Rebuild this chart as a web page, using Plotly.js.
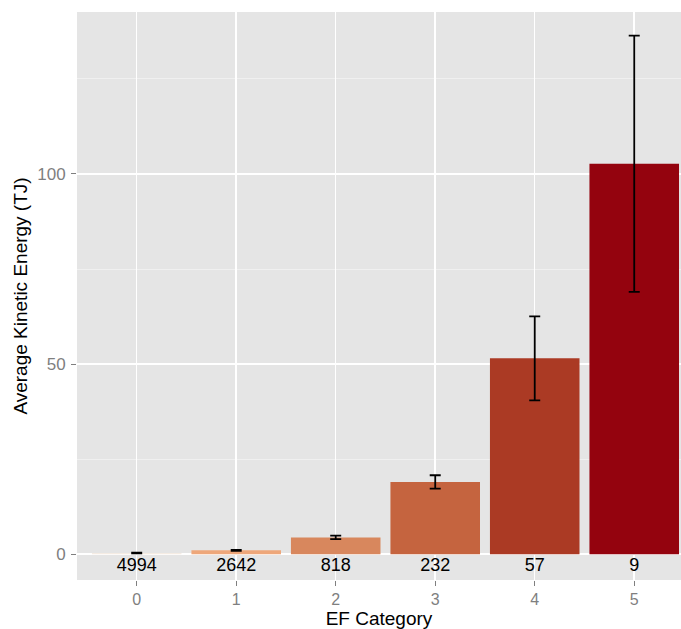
<!DOCTYPE html>
<html>
<head>
<meta charset="utf-8">
<script src="https://cdn.plot.ly/plotly-3.0.1.min.js"></script>
<style>html,body{margin:0;padding:0;background:#fff;}#chart{width:681px;height:629px;}</style>
</head>
<body>
<div id="chart"></div>
<script>
var categories = [0, 1, 2, 3, 4, 5];
var tickLabels = ["0", "1", "2", "3", "4", "5"];
var avgEnergy = [0.3, 1.0, 4.4, 19.0, 51.5, 102.7];
var errEnergy = [0.1, 0.15, 0.45, 1.75, 11.05, 33.7];
var counts = ["4994", "2642", "818", "232", "57", "9"];
var barColors = ["#F5ECE3", "#EEA77A", "#D8875D", "#C5643F", "#AB3A24", "#94030E"];

var labelY = categories.map(function(){ return -3.2; });

var traces = [
  {
    type: "bar",
    x: categories,
    y: avgEnergy,
    width: 0.9,
    marker: {color: barColors, line: {width: 0}},
    error_y: {type: "data", array: errEnergy, visible: true, color: "#000000", thickness: 1.8, width: 5.5},
    hoverinfo: "x+y",
    showlegend: false
  },
  {
    type: "scatter",
    mode: "text",
    x: categories,
    y: labelY,
    text: counts,
    textposition: "middle center",
    textfont: {family: "Liberation Sans, Arial, sans-serif", size: 18, color: "#000000"},
    hoverinfo: "skip",
    showlegend: false,
    cliponaxis: false
  }
];

var layout = {
  width: 681,
  height: 629,
  margin: {l: 77, r: 0, t: 12, b: 49},
  paper_bgcolor: "#FFFFFF",
  plot_bgcolor: "#E5E5E5",
  font: {family: "Liberation Sans, Arial, sans-serif", color: "#000000"},
  bargap: 0.1,
  xaxis: {
    range: [-0.6, 5.47],
    tickmode: "array",
    tickvals: categories,
    ticktext: tickLabels,
    showgrid: true,
    gridcolor: "#FFFFFF",
    gridwidth: 1.5,
    zeroline: false,
    showline: false,
    ticks: "outside",
    ticklen: 5,
    tickwidth: 1,
    tickcolor: "#7F7F7F",
    ticklabelstandoff: 0,
    tickfont: {size: 16, color: "#7F7F7F"},
    title: {text: "EF Category", font: {size: 19, color: "#000000"}, standoff: 0},
    fixedrange: true
  },
  yaxis: {
    range: [-6.8, 142.6],
    tickmode: "array",
    tickvals: [0, 50, 100],
    ticktext: ["0", "50", "100"],
    showgrid: true,
    gridcolor: "#FFFFFF",
    gridwidth: 1.5,
    minor: {tickmode: "array", tickvals: [25, 75, 125], showgrid: true, gridcolor: "#F2F2F2", gridwidth: 0.8, ticklen: 0},
    zeroline: false,
    showline: false,
    ticks: "outside",
    ticklen: 5,
    tickwidth: 1,
    tickcolor: "#7F7F7F",
    ticklabelstandoff: 2,
    tickfont: {size: 17, color: "#7F7F7F"},
    title: {text: "Average Kinetic Energy (TJ)", font: {size: 19, color: "#000000"}, standoff: 4},
    fixedrange: true
  }
};

Plotly.newPlot("chart", traces, layout, {displayModeBar: false, staticPlot: true});
</script>
</body>
</html>
